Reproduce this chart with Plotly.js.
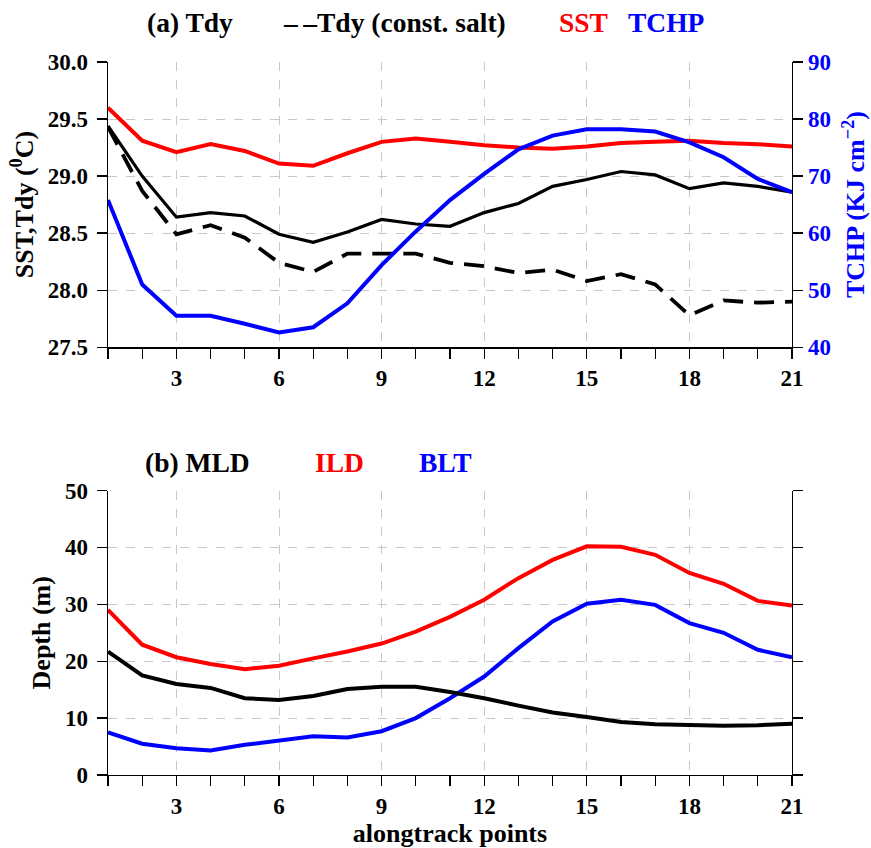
<!DOCTYPE html>
<html>
<head>
<meta charset="utf-8">
<script src="https://cdn.plot.ly/plotly-3.0.1.min.js"></script>
<style>html,body{margin:0;padding:0;background:#fff;}#chart{width:871px;height:848px;}</style>
</head>
<body>
<div id="chart"></div>
<script>
// ---- data ----
var points = [1,2,3,4,5,6,7,8,9,10,11,12,13,14,15,16,17,18,19,20,21];
var sst = [29.60,29.31,29.21,29.28,29.22,29.11,29.09,29.20,29.30,29.33,29.30,29.27,29.25,29.24,29.26,29.29,29.30,29.31,29.29,29.28,29.26];
var tdy = [29.44,29.00,28.64,28.68,28.65,28.49,28.42,28.51,28.62,28.58,28.56,28.68,28.76,28.91,28.97,29.04,29.01,28.89,28.94,28.91,28.86];
var tdyConstSalt = [29.43,28.87,28.49,28.57,28.46,28.24,28.16,28.32,28.32,28.32,28.24,28.21,28.15,28.18,28.08,28.14,28.05,27.78,27.91,27.89,27.90];
var tchp = [65.8,51.0,45.5,45.5,44.1,42.6,43.5,47.7,54.4,60.3,65.8,70.4,74.7,77.1,78.2,78.2,77.8,75.9,73.3,69.5,67.2];
var mld = [21.7,17.5,16.0,15.3,13.5,13.2,13.9,15.1,15.5,15.5,14.6,13.5,12.2,11.0,10.2,9.3,8.9,8.7,8.65,8.75,9.0];
var ild = [29.0,22.9,20.7,19.5,18.6,19.2,20.5,21.7,23.1,25.2,27.8,30.8,34.6,37.8,40.2,40.1,38.7,35.5,33.6,30.6,29.8];
var blt = [7.5,5.5,4.7,4.3,5.3,6.1,6.8,6.6,7.7,10.0,13.5,17.3,22.3,27.0,30.1,30.8,29.9,26.7,25.0,22.0,20.7];
var xMajorTicks = [3,6,9,12,15,18,21];

var FONT = 'Liberation Serif, Times New Roman, serif';
var GRID = '#c8c8c8';

var traces = [
  {x: points, y: sst, xaxis: 'x', yaxis: 'y', mode: 'lines', line: {color: '#ff0000', width: 4}, name: 'SST'},
  {x: points, y: tdy, xaxis: 'x', yaxis: 'y', mode: 'lines', line: {color: '#000000', width: 3.2}, name: 'Tdy'},
  {x: points, y: tdyConstSalt, xaxis: 'x', yaxis: 'y', mode: 'lines', line: {color: '#000000', width: 3.8, dash: '20px,11px'}, name: 'Tdy (const. salt)'},
  {x: points, y: tchp, xaxis: 'x', yaxis: 'y3', mode: 'lines', line: {color: '#0000ff', width: 4}, name: 'TCHP'},
  {x: points, y: ild, xaxis: 'x2', yaxis: 'y2', mode: 'lines', line: {color: '#ff0000', width: 4}, name: 'ILD'},
  {x: points, y: blt, xaxis: 'x2', yaxis: 'y2', mode: 'lines', line: {color: '#0000ff', width: 4}, name: 'BLT'},
  {x: points, y: mld, xaxis: 'x2', yaxis: 'y2', mode: 'lines', line: {color: '#000000', width: 4}, name: 'MLD'}
];

var tickFont = {family: FONT, size: 23, color: '#000', weight: 700};
var titleFont = {family: FONT, size: 26, color: '#000', weight: 700};

function xBase(extra) {
  var o = {
    range: [1, 21], tickmode: 'array', tickvals: xMajorTicks, ticks: 'outside', ticklen: 10, tickwidth: 1.3,
    tickcolor: '#000', showline: true, linecolor: '#000', linewidth: 1.3, zeroline: false,
    showgrid: true, gridcolor: GRID, griddash: 'dash', gridwidth: 1, tickfont: tickFont,
    minor: {tickmode: 'linear', tick0: 0, dtick: 1, ticks: 'outside', ticklen: 10, tickwidth: 1.3, tickcolor: '#000', showgrid: false}
  };
  for (var k in extra) o[k] = extra[k];
  return o;
}

var layout = {
  width: 871, height: 848,
  margin: {l: 108, r: 79, t: 62, b: 73},
  paper_bgcolor: '#fff', plot_bgcolor: 'rgba(0,0,0,0)',
  showlegend: false,
  font: {family: FONT},
  xaxis: xBase({anchor: 'y', domain: [0, 1]}),
  xaxis3: xBase({anchor: 'y', overlaying: 'x', side: 'top', showticklabels: false, showgrid: false}),
  xaxis2: xBase({anchor: 'y2', domain: [0, 1], title: {text: 'alongtrack points', font: titleFont, standoff: 4}}),
  xaxis4: {range: [1, 21], anchor: 'y2', overlaying: 'x2', side: 'top', tickmode: 'array', tickvals: xMajorTicks,
    ticks: 'outside', ticklen: 10, tickwidth: 1.3, tickcolor: '#000', showline: true, linecolor: '#000', linewidth: 1.3,
    showticklabels: false, showgrid: false, zeroline: false},
  yaxis: {domain: [0.6, 1], anchor: 'x', range: [27.5, 30], tickmode: 'linear', tick0: 27.5, dtick: 0.5, tickformat: '.1f',
    ticks: 'outside', ticklen: 10, tickwidth: 1.3, tickcolor: '#000', showline: true, linecolor: '#000', linewidth: 1.3,
    zeroline: false, showgrid: true, gridcolor: GRID, griddash: 'dash', gridwidth: 1, tickfont: tickFont, ticklabelstandoff: 4,
    title: {text: 'SST,Tdy (<sup>0</sup>C)', font: titleFont, standoff: 6}},
  yaxis3: {anchor: 'x', overlaying: 'y', side: 'right', range: [40, 90], tickmode: 'linear', tick0: 40, dtick: 10,
    ticks: 'outside', ticklen: 10, tickwidth: 1.3, tickcolor: '#000', showline: true, linecolor: '#000', linewidth: 1.3,
    zeroline: false, showgrid: false, tickfont: {family: FONT, size: 23, color: '#0000ff', weight: 700},
    title: {text: 'TCHP (KJ cm<sup>\u22122</sup>)', font: {family: FONT, size: 26, color: '#0000ff', weight: 700}, standoff: 16}},
  yaxis2: {domain: [0, 0.399], anchor: 'x2', range: [0, 50], tickmode: 'linear', tick0: 0, dtick: 10,
    ticks: 'outside', ticklen: 10, tickwidth: 1.3, tickcolor: '#000', showline: true, linecolor: '#000', linewidth: 1.3,
    mirror: 'ticks', zeroline: false, showgrid: true, gridcolor: GRID, griddash: 'dash', gridwidth: 1, tickfont: tickFont, ticklabelstandoff: 4,
    title: {text: 'Depth (m)', font: titleFont, standoff: 7}},
  annotations: [
    {text: '(a) Tdy', x: 0.054, y: 1.056},
    {text: '\u2013\u2009\u2013Tdy (const. salt)', x: 0.253, y: 1.056},
    {text: 'SST', x: 0.656, y: 1.056, color: '#ff0000'},
    {text: 'TCHP', x: 0.757, y: 1.056, color: '#0000ff'},
    {text: '(b) MLD', x: 0.051, y: 0.4376},
    {text: 'ILD', x: 0.2997, y: 0.4376, color: '#ff0000'},
    {text: 'BLT', x: 0.4518, y: 0.4376, color: '#0000ff'}
  ].map(function (a) {
    return {text: a.text, x: a.x, y: a.y, xref: 'paper', yref: 'paper', xanchor: 'left', yanchor: 'middle',
      showarrow: false, font: {family: FONT, size: 27.5, color: a.color || '#000', weight: 700}};
  })
};

Plotly.newPlot('chart', traces, layout, {displayModeBar: false, staticPlot: true});
</script>
</body>
</html>
